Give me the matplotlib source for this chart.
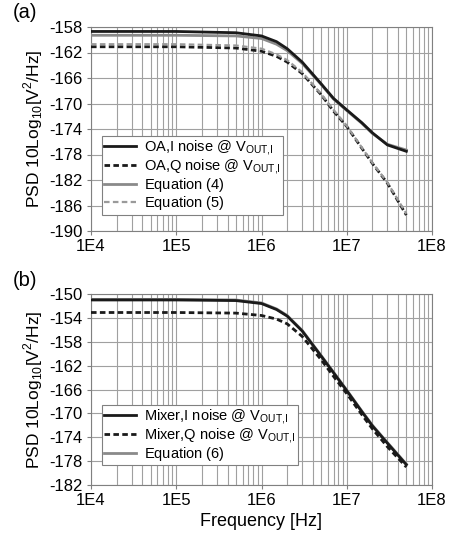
import matplotlib.pyplot as plt
import numpy as np
from matplotlib.ticker import LogLocator, FixedLocator, NullFormatter

plt.rcParams['font.family'] = ['Liberation Sans', 'DejaVu Sans']
plt.rcParams['mathtext.fontset'] = 'custom'
plt.rcParams['mathtext.rm'] = 'Liberation Sans'
plt.rcParams['axes.unicode_minus'] = False

# frequency points (Hz)
freq = [1e4, 1e5, 5e5, 1e6, 1.5e6, 2e6, 3e6, 5e6, 7e6, 1e7, 1.5e7, 2e7, 3e7, 5e7]

# panel (a): OA noise
oa_i = [-158.7, -158.7, -158.9, -159.4, -160.3, -161.4, -163.5, -166.9, -169.2, -171.0, -173.0, -174.6, -176.5, -177.5]
oa_q = [-161.1, -161.1, -161.3, -161.8, -162.6, -163.5, -165.3, -168.6, -171.2, -173.6, -177.0, -179.4, -182.5, -187.5]
eq4 = [-159.3, -159.3, -159.4, -159.8, -160.7, -161.7, -163.7, -167.0, -169.3, -171.1, -173.1, -174.7, -176.4, -177.3]
eq5 = [-160.7, -160.7, -160.9, -161.4, -162.3, -163.2, -165.1, -168.5, -171.0, -173.5, -176.9, -179.3, -182.4, -187.3]

# panel (b): mixer noise
mx_i = [-151.0, -151.0, -151.1, -151.6, -152.6, -153.7, -156.2, -160.4, -163.2, -166.2, -169.7, -172.1, -175.0, -178.6]
mx_q = [-153.1, -153.1, -153.2, -153.6, -154.2, -155.0, -157.1, -161.0, -163.8, -166.7, -170.2, -172.6, -175.6, -179.0]
eq6 = [-150.9, -150.9, -151.0, -151.5, -152.5, -153.6, -156.1, -160.3, -163.1, -166.1, -169.6, -172.0, -174.9, -178.5]

vout = r'$\mathregular{V_{OUT{,}I}}$'
pad_sub = r'$\mathregular{_{\ }}$'  # keeps legend rows the same height
labels_a = ['OA,I noise @ ' + vout, 'OA,Q noise @ ' + vout, 'Equation (4)' + pad_sub, 'Equation (5)' + pad_sub]
labels_b = ['Mixer,I noise @ ' + vout, 'Mixer,Q noise @ ' + vout, 'Equation (6)' + pad_sub]

xticks = [1e4, 1e5, 1e6, 1e7, 1e8]
xticklabels = ['1E4', '1E5', '1E6', '1E7', '1E8']

dark = '#1a1a1a'
gray = '#8a8a8a'
lgray = '#9a9a9a'
grid_c = '#a0a0a0'

fig = plt.figure(figsize=(4.56, 5.38), dpi=100)
W, H = 456, 538
ax_a = fig.add_axes([91 / W, 1 - 231 / H, (432 - 91) / W, (231 - 27) / H])
ax_b = fig.add_axes([91 / W, 1 - 485 / H, (432 - 91) / W, (485 - 294) / H])


def style_axis(ax, ymin, ymax):
    ax.set_xscale('log')
    ax.set_xlim(1e4, 1e8)
    ax.set_ylim(ymin, ymax)
    ax.set_yticks(np.arange(ymin, ymax + 1, 4))
    ax.xaxis.set_major_locator(FixedLocator(xticks))
    ax.set_xticklabels(xticklabels)
    ax.xaxis.set_minor_locator(LogLocator(base=10, subs=np.arange(2, 10)))
    ax.xaxis.set_minor_formatter(NullFormatter())
    ax.grid(True, which='both', color=grid_c, linewidth=0.8)
    ax.tick_params(which='major', length=3, color='#808080', labelsize=12, pad=3)
    ax.tick_params(which='minor', length=0)
    for s in ax.spines.values():
        s.set_color('#808080')
        s.set_linewidth(0.8)
    ax.set_axisbelow(True)
    ax.set_ylabel(r'PSD 10Log$_{\mathregular{10}}$[V$^{\mathregular{2}}$/Hz]', fontsize=12.5, labelpad=3)


def add_legend(ax, order, anchor):
    h, l = ax.get_legend_handles_labels()
    leg = ax.legend([h[i] for i in order], [l[i] for i in order], loc='lower left',
                    bbox_to_anchor=anchor, fontsize=10.5, frameon=True, fancybox=False,
                    edgecolor='#808080', framealpha=1, handlelength=2.2, handletextpad=0.55,
                    borderpad=0.15, labelspacing=0.0, borderaxespad=0)
    leg.get_frame().set_linewidth(0.8)


# panel (a)
ax_a.plot(freq, oa_i, color=dark, lw=2.0, label=labels_a[0], zorder=4)
ax_a.plot(freq, eq4, color=gray, lw=2.0, label=labels_a[2], zorder=3)
ax_a.plot(freq, oa_q, color=dark, lw=2.0, ls=(0, (2.0, 1.2)), label=labels_a[1], zorder=4)
ax_a.plot(freq, eq5, color=lgray, lw=1.6, ls=(0, (2.5, 1.5)), label=labels_a[3], zorder=5)
style_axis(ax_a, -190, -158)
add_legend(ax_a, [0, 2, 1, 3], (0.032, 0.08))
fig.text(13 / W, 1 - 13 / H, '(a)', fontsize=14.5, va='center', ha='left')

# panel (b)
ax_b.plot(freq, mx_i, color=dark, lw=2.0, label=labels_b[0], zorder=4)
ax_b.plot(freq, eq6, color=gray, lw=2.0, label=labels_b[2], zorder=3)
ax_b.plot(freq, mx_q, color=dark, lw=2.0, ls=(0, (2.0, 1.2)), label=labels_b[1], zorder=4)
style_axis(ax_b, -182, -150)
add_legend(ax_b, [0, 2, 1], (0.032, 0.105))
ax_b.set_xlabel('Frequency [Hz]', fontsize=13, labelpad=3)
fig.text(13 / W, 1 - 281 / H, '(b)', fontsize=14.5, va='center', ha='left')

fig.savefig('out.png', dpi=100)
